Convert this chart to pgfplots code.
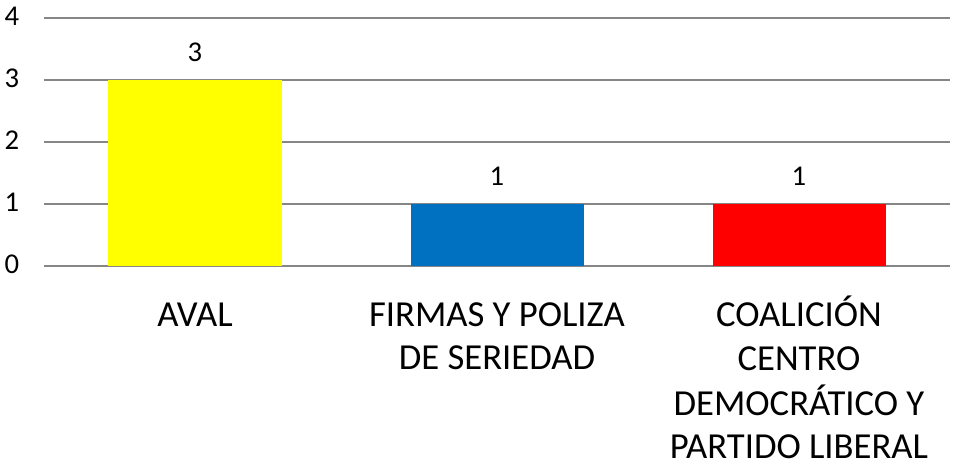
\documentclass[border=0pt]{standalone}
\usepackage{pgfplots}
\pgfplotsset{compat=1.18}
\usepackage{fontspec}
\setmainfont{Carlito}
\definecolor{barY}{HTML}{FFFF00}
\definecolor{barB}{HTML}{0070C0}
\definecolor{barR}{HTML}{FF0000}
\definecolor{gridc}{RGB}{134,134,134}
\begin{document}
\begin{tikzpicture}
\useasboundingbox (-33pt,-150pt) rectangle (681.75pt,199.5pt);
\begin{axis}[
  at={(0,0)}, anchor=south west,
  scale only axis,
  width=679.5pt, height=186pt,
  xmin=-0.5, xmax=2.5, ymin=0, ymax=4,
  ytick={0,1,2,3,4},
  xtick={0,1,2},
  xticklabels={{\strut AVAL}, {\strut FIRMAS Y POLIZA\\\strut DE SERIEDAD}, {\strut COALICIÓN\\\strut CENTRO\\\strut DEMOCRÁTICO Y\\\strut PARTIDO LIBERAL}},
  axis line style={draw=none},
  major tick length=0pt,
  ymajorgrids,
  grid style={draw=gridc, line width=1.2pt},
  /pgf/number format/assume math mode=true,
  yticklabel style={font=\fontsize{21.5}{25}\selectfont, anchor=center, inner sep=0pt, xshift=-24pt, yshift=1pt},
  xticklabel style={font=\fontsize{27.5}{32.5}\selectfont, align=center, anchor=north, inner sep=0pt, yshift=-22.4pt},
  ybar, bar width=129.75pt,
  nodes near coords,
  every node near coord/.append style={font=\fontsize{21.5}{25}\selectfont, anchor=center, yshift=21pt, text=black},
]
\addplot[fill=barY, draw=none, bar shift=0pt] coordinates {(0,3)};
\addplot[fill=barB, draw=none, bar shift=0pt] coordinates {(1,1)};
\addplot[fill=barR, draw=none, bar shift=0pt] coordinates {(2,1)};
\end{axis}
\end{tikzpicture}
\end{document}
